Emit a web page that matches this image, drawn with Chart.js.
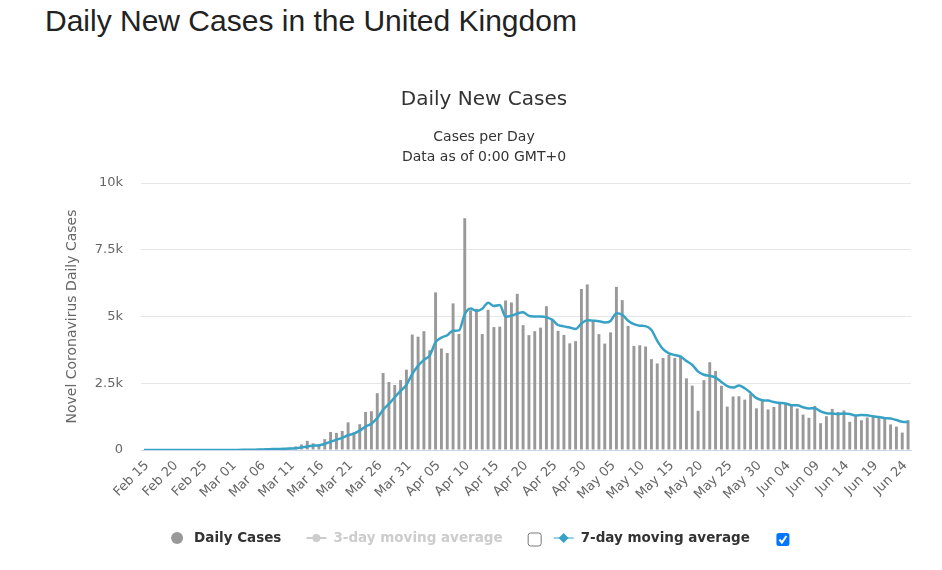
<!DOCTYPE html>
<html>
<head>
<meta charset="utf-8">
<title>Daily New Cases in the United Kingdom</title>
<script src="https://cdn.jsdelivr.net/npm/chart.js@4.4.1/dist/chart.umd.min.js"></script>
<style>
  html, body { margin: 0; padding: 0; background: #fff; }
  body { width: 942px; height: 570px; position: relative; overflow: hidden; }
  h1 {
    position: absolute; left: 45px; top: 4px; margin: 0;
    font: normal 30px "Liberation Sans", Arial, sans-serif; color: #222;
  }
  .chart { position: absolute; left: 0; top: 60px; width: 942px; height: 510px; }
</style>
</head>
<body>
<h1>Daily New Cases in the United Kingdom</h1>
<div class="chart"><canvas id="cases-chart"></canvas></div>
<script>
// first day of the series, one value per day after it
const startDate = new Date(2020, 1, 15)

// Feb 15 .. Jun 25
const dailyCases = [
  0, 0, 0, 0, 0, 0, 0, 0, 0, 4, 0, 0, 2, 5, 3,
  13, 4, 11, 34, 30, 48, 43, 67, 48, 52, 83, 134, 208, 342, 251, 152,
  407, 676, 643, 714, 1035, 665, 967, 1427, 1452, 2129, 2885, 2546, 2433, 2619, 3009,
  4324, 4244, 4450, 3735, 5903, 3802, 3634, 5491, 4344, 8681, 5233, 5288, 4342, 5252, 4603,
  4617, 5599, 5525, 5850, 4676, 4301, 4451, 4583, 5386, 4913, 4463, 4310, 3996, 4076, 6032,
  6201, 4806, 4339, 3985, 4406, 6111, 5614, 4649, 3896, 3923, 3877, 3403, 3242, 3446, 3560, 3450,
  3534, 2684, 2412, 1470, 2615, 3287, 2959, 2405, 1625, 2004, 2013, 1887, 2095, 1560, 1870,
  1520, 1610, 1800, 1750, 1650, 1557, 1326, 1205, 1650, 1003, 1266, 1541, 1425, 1480, 1056,
  1279, 1115, 1218, 1250, 1240, 1200, 958, 874, 653, 1118
]

const movingAvg7 = [
  0, 0, 0, 0, 0, 0, 0, 0, 0, 1, 1, 1, 1, 2, 2,
  4, 4, 5, 10, 14, 20, 26, 34, 40, 46, 53, 68, 91, 133, 160, 175,
  225, 310, 383, 455, 554, 613, 730, 875, 986, 1198, 1509, 1724, 1977, 2213, 2439,
  2849, 3151, 3375, 3545, 4041, 4210, 4299, 4466, 4480, 5084, 5298, 5210, 5288, 5519, 5392,
  5431, 4991, 5032, 5113, 5160, 5024, 5003, 4998, 4967, 4880, 4682, 4630, 4586, 4532, 4739,
  4856, 4841, 4823, 4776, 4835, 5126, 5066, 4844, 4714, 4655, 4639, 4496, 4086, 3777, 3621, 3557,
  3502, 3331, 3190, 2937, 2818, 2779, 2709, 2547, 2396, 2338, 2415, 2311, 2141, 1941, 1865,
  1850, 1794, 1763, 1744, 1680, 1680, 1602, 1557, 1563, 1449, 1380, 1364, 1345, 1367, 1346,
  1293, 1309, 1302, 1260, 1234, 1194, 1180, 1122, 1056, 1042
]

const yTicks = [0, 2500, 5000, 7500, 10000]
const yTickLabels = ['0', '2.5k', '5k', '7.5k', '10k']
const labelEvery = 5

const months = ['Jan', 'Feb', 'Mar', 'Apr', 'May', 'Jun', 'Jul']
const dates = dailyCases.map((v, i) => {
  const d = new Date(startDate)
  d.setDate(d.getDate() + i)
  return months[d.getMonth()] + ' ' + String(d.getDate()).padStart(2, '0')
})

const FONT = '"DejaVu Sans", "Lucida Sans Unicode", Verdana, sans-serif'
const barColor = '#999999'
const lineColor = '#37a2c6'

// the legend with the two checkboxes, laid out like the original
const caseLegend = {
  id: 'caseLegend',
  afterDraw(chart) {
    const ctx = chart.ctx
    const y = chart.chartArea.bottom + 88
    ctx.save()
    ctx.font = 'bold 13.5px ' + FONT
    ctx.textBaseline = 'middle'
    const w1 = ctx.measureText('Daily Cases').width
    const w2 = ctx.measureText('3-day moving average').width
    const w3 = ctx.measureText('7-day moving average').width
    const total = 12 + 11 + w1 + 25 + 20 + 7 + w2 + 25 + 15 + 11 + 20 + 7 + w3 + 26 + 15
    let x = 481 - total / 2

    ctx.fillStyle = barColor
    ctx.beginPath()
    ctx.arc(x + 6, y, 6, 0, Math.PI * 2)
    ctx.fill()
    x += 23
    ctx.fillStyle = '#333'
    ctx.fillText('Daily Cases', x, y)
    x += w1 + 25

    ctx.strokeStyle = '#cccccc'
    ctx.lineWidth = 2
    ctx.beginPath()
    ctx.moveTo(x, y)
    ctx.lineTo(x + 20, y)
    ctx.stroke()
    ctx.fillStyle = '#cccccc'
    ctx.beginPath()
    ctx.arc(x + 10, y, 4, 0, Math.PI * 2)
    ctx.fill()
    x += 27
    ctx.fillText('3-day moving average', x, y)
    x += w2 + 25

    checkbox(ctx, x, y, false)
    x += 15 + 11

    ctx.strokeStyle = lineColor
    ctx.beginPath()
    ctx.moveTo(x, y)
    ctx.lineTo(x + 20, y)
    ctx.stroke()
    ctx.fillStyle = lineColor
    ctx.beginPath()
    ctx.moveTo(x + 10, y - 5)
    ctx.lineTo(x + 15, y)
    ctx.lineTo(x + 10, y + 5)
    ctx.lineTo(x + 5, y)
    ctx.closePath()
    ctx.fill()
    x += 27
    ctx.fillStyle = '#333'
    ctx.fillText('7-day moving average', x, y)
    x += w3 + 26

    checkbox(ctx, x, y, true)
    ctx.restore()
  }
}

function checkbox(ctx, x, y, checked) {
  const s = 13
  const top = y - s / 2 + 1
  ctx.beginPath()
  ctx.roundRect(x + 0.5, top + 0.5, s, s, 2.5)
  if (checked) {
    ctx.fillStyle = '#0075ff'
    ctx.fill()
    ctx.strokeStyle = '#ffffff'
    ctx.lineWidth = 2
    ctx.beginPath()
    ctx.moveTo(x + 3.5, top + 7)
    ctx.lineTo(x + 6, top + 10)
    ctx.lineTo(x + 10.5, top + 3.5)
    ctx.stroke()
  } else {
    ctx.fillStyle = '#ffffff'
    ctx.fill()
    ctx.strokeStyle = '#767676'
    ctx.lineWidth = 1
    ctx.stroke()
  }
}

new Chart(document.getElementById('cases-chart'), {
  type: 'bar',
  data: {
    labels: dates,
    datasets: [
      {
        type: 'line',
        label: '7-day moving average',
        data: movingAvg7,
        borderColor: lineColor,
        borderWidth: 2.5,
        pointRadius: 0,
        cubicInterpolationMode: 'monotone',
        order: 0
      },
      {
        label: 'Daily Cases',
        data: dailyCases,
        backgroundColor: barColor,
        barPercentage: 0.5,
        categoryPercentage: 1,
        order: 1
      }
    ]
  },
  options: {
    responsive: true,
    maintainAspectRatio: false,
    animation: false,
    // left padding centres the titles where the original has them
    layout: { padding: { left: 57, right: 31, top: 0, bottom: 60 } },
    plugins: {
      legend: { display: false },
      tooltip: { enabled: false },
      title: {
        display: true,
        text: 'Daily New Cases',
        color: '#333',
        font: { family: FONT, size: 20, weight: 'normal' },
        padding: { top: 28, bottom: 14 }
      },
      subtitle: {
        display: true,
        text: ['Cases per Day', 'Data as of 0:00 GMT+0'],
        color: '#333',
        font: { family: FONT, size: 14, lineHeight: 20 / 14 },
        padding: { top: 1, bottom: 16 }
      }
    },
    scales: {
      x: {
        grid: { display: false, drawTicks: false },
        border: { display: true, color: '#ccd6eb', width: 1 },
        ticks: {
          autoSkip: false,
          maxRotation: 45,
          minRotation: 45,
          padding: 8,
          labelOffset: 3,
          color: '#666',
          font: { family: FONT, size: 13 },
          callback: (val, i) => (i % labelEvery === 0 ? dates[i] : '')
        },
        afterFit: s => { s.height = 60 }
      },
      y: {
        min: 0,
        max: 10000,
        afterBuildTicks: s => { s.ticks = yTicks.map(v => ({ value: v })) },
        grid: { color: '#e6e6e6', drawTicks: false },
        border: { display: false },
        ticks: {
          padding: 18,
          color: '#666',
          font: { family: FONT, size: 13 },
          callback: v => yTickLabels[yTicks.indexOf(v)]
        },
        title: {
          display: true,
          text: 'Novel Coronavirus Daily Cases',
          color: '#666',
          font: { family: FONT, size: 14 },
          padding: { top: 7, bottom: 0 }
        },
        afterFit: s => { s.width = 84 }
      }
    }
  },
  plugins: [caseLegend]
})
</script>
</body>
</html>
